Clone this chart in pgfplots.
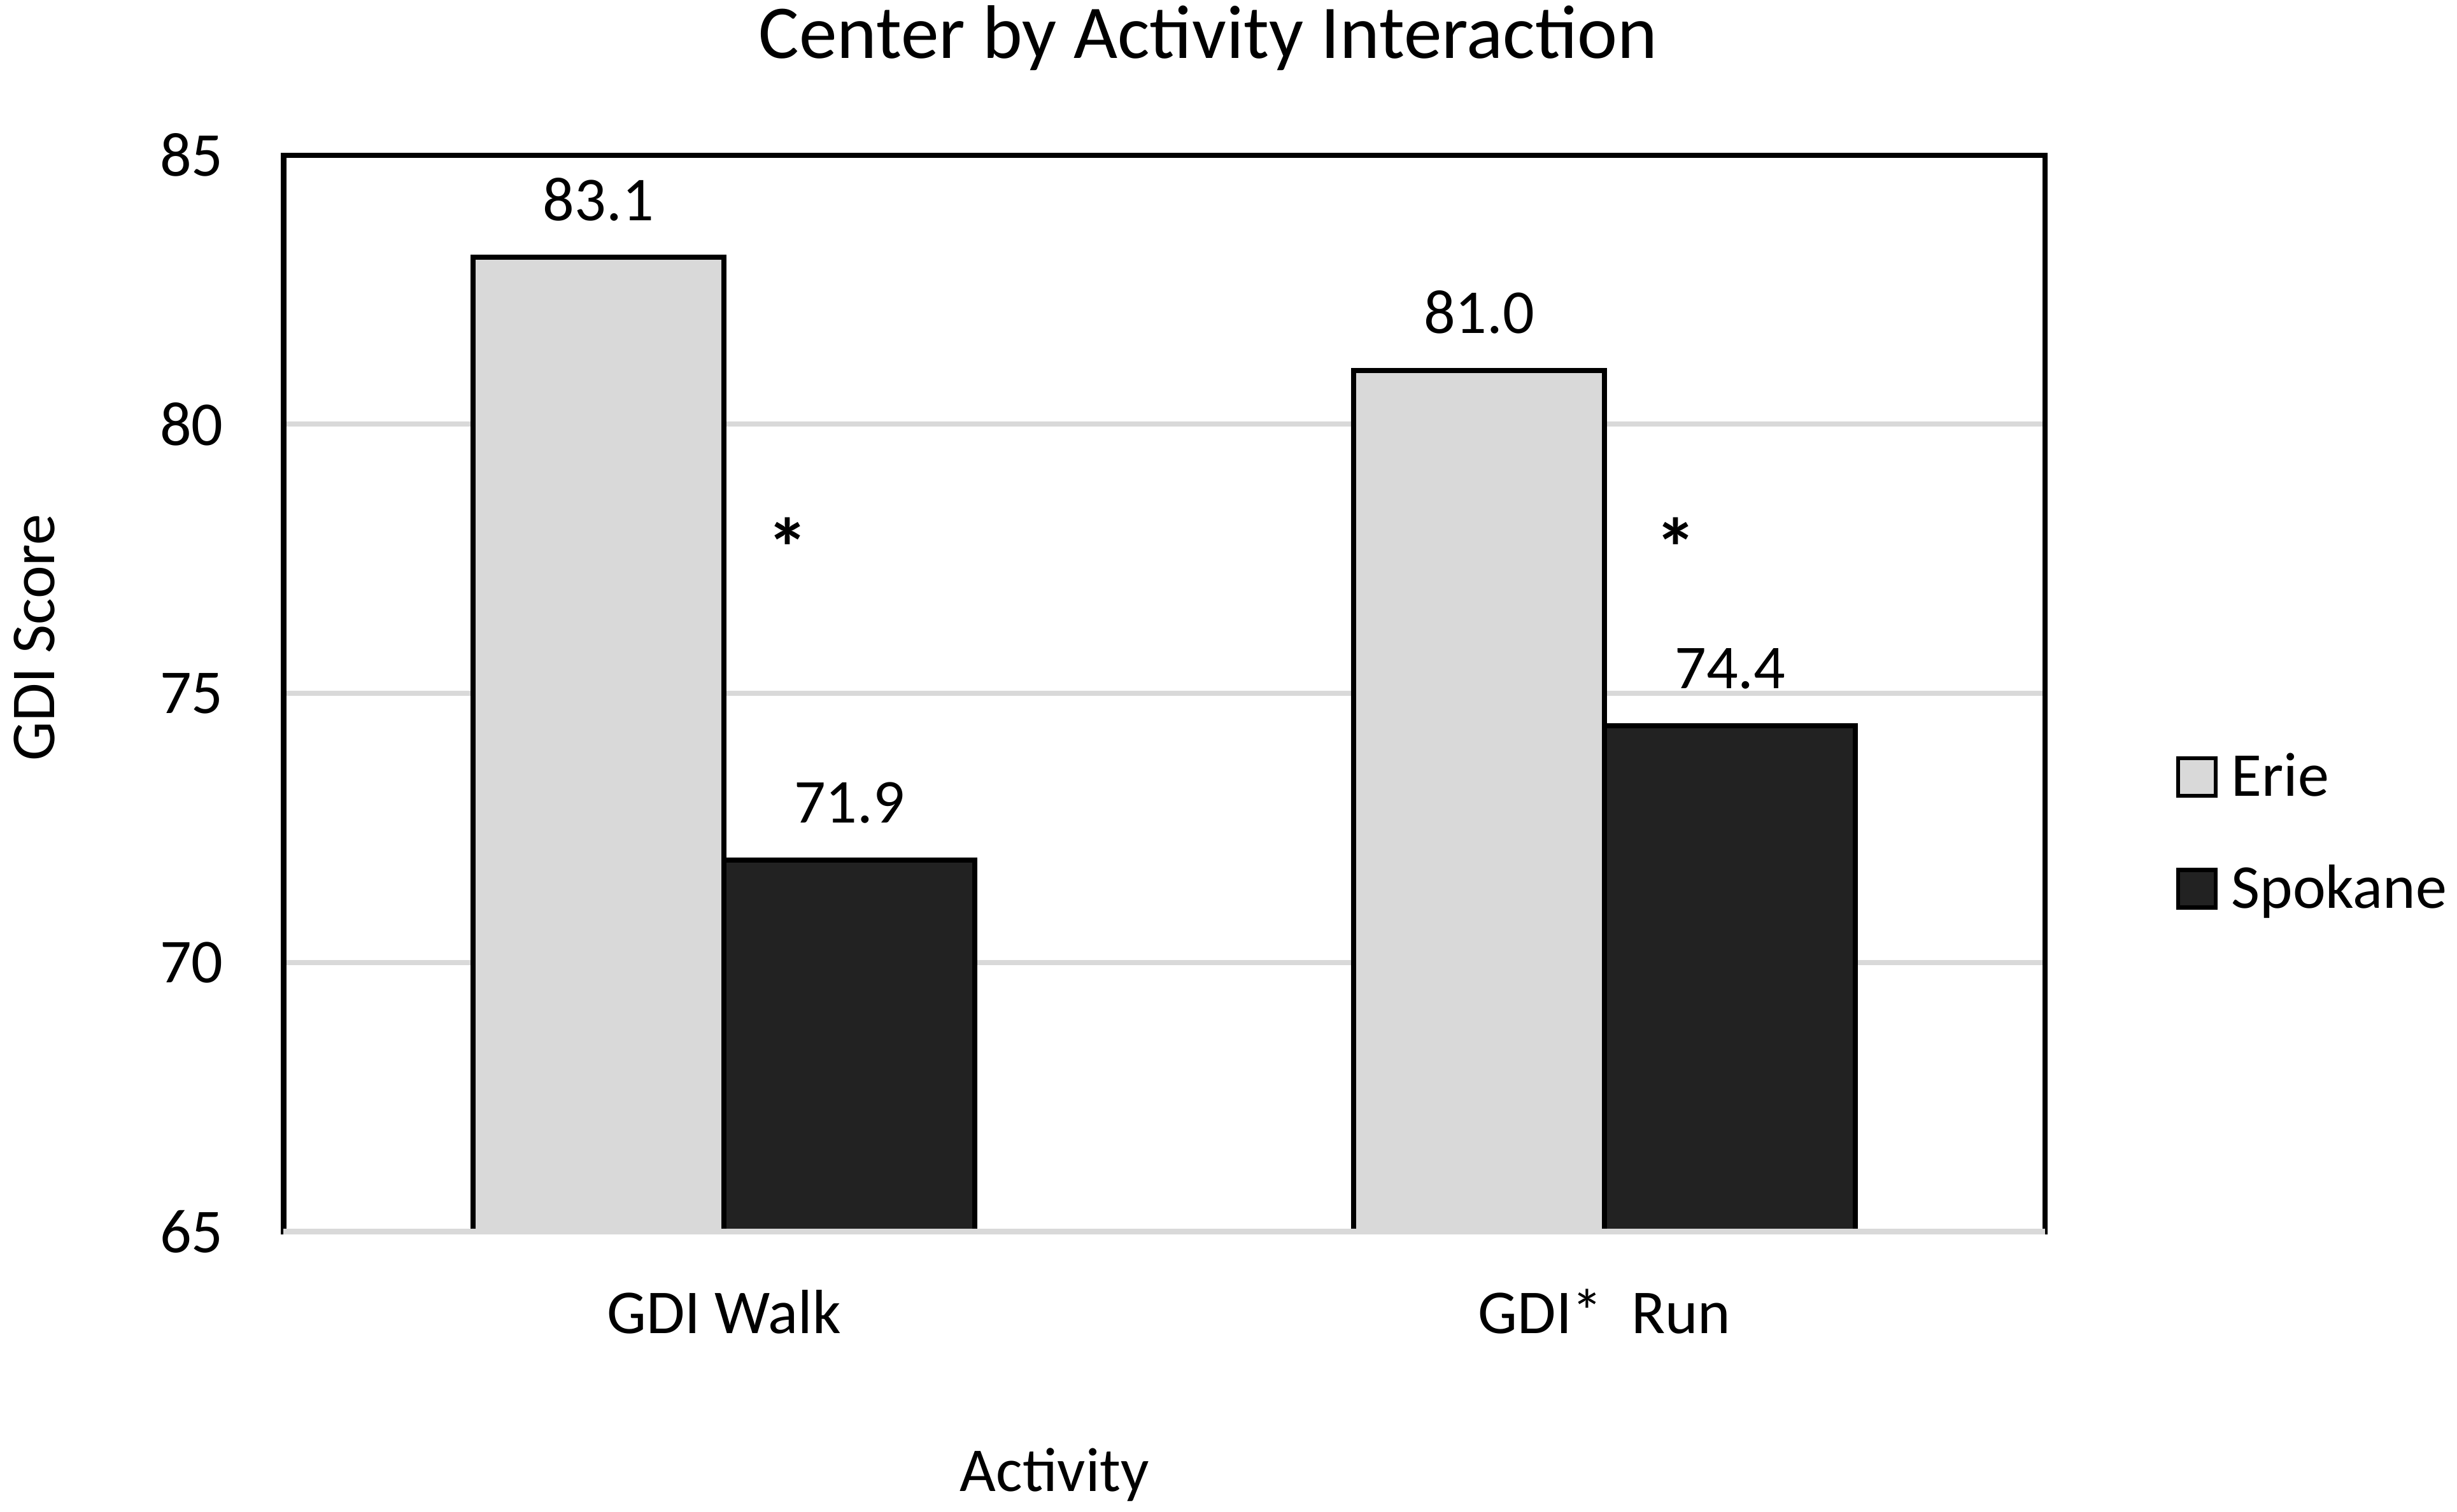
\documentclass[12pt,border=0pt]{standalone}
\usepackage{fontspec}
\setmainfont{Carlito}
\usepackage{pgfplots}
\pgfplotsset{compat=1.18}
\definecolor{erie}{HTML}{D9D9D9}
\definecolor{spokane}{HTML}{222222}
\definecolor{gridgray}{HTML}{D9D9D9}

\begin{document}
\begin{tikzpicture}
\path[use as bounding box] (-54.3bp,-53.7bp) rectangle (416.1bp,235.8bp);
\begin{axis}[
  at={(0,0)}, anchor=south west,
  scale only axis,
  width=337.2bp, height=206.1bp,
  xmin=-0.5, xmax=1.5,
  ymin=65, ymax=85,
  ytick={65,70,75,80,85},
  xtick={0,1},
  xticklabels={GDI Walk, GDI*\ \ Run},
  major tick length=0pt,
  ymajorgrids,
  grid style={gridgray, line width=1bp},
  axis line style={black, line width=1bp},
  ybar=0pt, bar width=0.285,
  /pgf/number format/assume math mode=true,
  yticklabel style={xshift=-7.4bp},
  xticklabel style={anchor=base, yshift=-19.5bp},
  nodes near coords,
  nodes near coords style={text=black, anchor=base, yshift=7.1bp,
    /pgf/number format/.cd, fixed, fixed zerofill, precision=1, assume math mode=true},
  legend style={draw=none, fill=none, inner sep=0pt, outer sep=0pt,
    at={(1.0756,0.457)}, anchor=north west,
    nodes={inner sep=0pt}, row sep=8.75bp},
  legend cell align=left,
  legend image code/.code={
    \draw[#1, draw=black, line width=0.75bp, overlay] (0bp,-3.2bp) rectangle (7.2bp,4.0bp);
    \path[draw=none, fill=none] (0bp,0.4bp) rectangle (10.2bp,7.6bp);},
]
\addplot[fill=erie, draw=black, line width=1bp, bar shift=-0.1425]
  coordinates {(0,83.1) (1,81.0)};
\addlegendentry{Erie}
\addplot[fill=spokane, draw=black, line width=1bp, bar shift=0.1425]
  coordinates {(0,71.9) (1,74.4)};
\addlegendentry{Spokane}

% significance marks
\node[anchor=north, inner sep=0pt, font=\fontsize{16}{19}\selectfont\bfseries]
  at (axis cs:0.072,78.28) {*};
\node[anchor=north, inner sep=0pt, font=\fontsize{16}{19}\selectfont\bfseries]
  at (axis cs:1.081,78.28) {*};
\end{axis}

% gray base line over the bottom of the frame
\draw[gridgray, line width=1bp] (0,0) -- (337.2bp,0);

\node[anchor=base, font=\fontsize{14.6}{17}\selectfont] at (177bp,224.6bp)
  {Center by Activity Interaction};
\node[anchor=base] at (147.6bp,-49.8bp) {Activity};
\node[rotate=90, anchor=center] at (-47.7bp,113.7bp) {GDI Score};
\end{tikzpicture}
\end{document}
